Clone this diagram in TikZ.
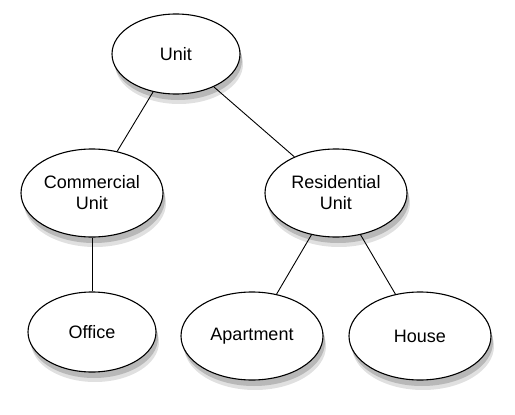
\documentclass[tikz,border=0pt]{standalone}
\usepackage{fontspec}
\setsansfont{Liberation Sans}
\usetikzlibrary{positioning,shapes.geometric,backgrounds}

\tikzset{
  unitbox/.style={ellipse, draw, line width=1.1pt, fill=white,
    minimum width=142pt, minimum height=88pt, inner sep=0pt,
    align=center, font=\sffamily\fontsize{18}{21}\selectfont},
  smallbox/.style={unitbox, minimum width=128pt, minimum height=80pt},
  link/.style={line width=0.9pt}
}

\begin{document}
\begin{tikzpicture}[x=1pt, y=1pt, on grid]
  \useasboundingbox (0,0) rectangle (515,-415);

  \node [smallbox] (unit) at (176,-54) {Unit};
  \node [unitbox, below left=139pt and 84pt of unit] (commercial) {Commercial\\Unit};
  \node [unitbox, below right=139pt and 160pt of unit] (residential) {Residential\\Unit};
  \node [smallbox, below=139pt of commercial] (office) {Office};
  \node [unitbox, below left=143pt and 84pt of residential] (apartment) {Apartment};
  \node [unitbox, below right=143pt and 84pt of residential] (house) {House};

  \draw [link] (unit) -- (commercial);
  \draw [link] (unit) -- (residential);
  \draw [link] (commercial) -- (office);
  \draw [link] (residential) -- (apartment);
  \draw [link] (residential) -- (house);

  % soft shadows behind the ellipses
  \begin{scope}[on background layer]
    \foreach \n/\rx/\ry in {unit/64/40, office/64/40, commercial/71/44,
        residential/71/44, apartment/71/44, house/71/44} {
      \fill [black!12] ([shift={(3pt,-10pt)}]\n.center) ellipse [x radius=\rx, y radius=\ry];
      \fill [black!28] ([shift={(2pt,-6pt)}]\n.center) ellipse [x radius=\rx, y radius=\ry];
    }
  \end{scope}
\end{tikzpicture}
\end{document}
